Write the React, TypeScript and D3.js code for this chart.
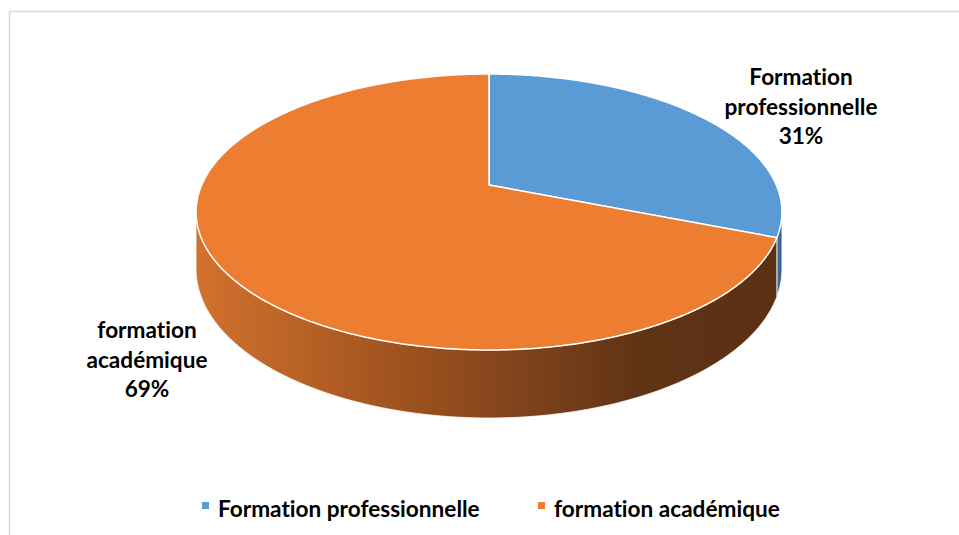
import React from 'react';
import * as d3 from 'd3';

// chart data
const categories = ["Formation professionnelle", "formation académique"];
const values = [31, 69];
const colors = ["#5B9BD5", "#ED7D31"];
const sideColors = ["#3A6691", "url(#sideGrad)"];
const labelLines = [["Formation", "professionnelle", "31%"], ["formation", "académique", "69%"]];

const W = 959;
const H = 535;
const FONT = "Lato, 'Open Sans', sans-serif";
const FS = 22.6;

// perspective projection of the pie disc
const cx = 489;
const cy = 185;   // projected centre of the disc
const a = 287.3;  // horizontal radius factor
const b = 132.7;  // vertical radius factor
const k = 0.1957; // perspective strength
const h0 = 54.7;  // depth factor

const project = (t: number, down = false): [number, number] => {
  const s = Math.sin(t), c = Math.cos(t);
  const den = 1 + k * c;
  const x = cx + (a * s) / den;
  const y = cy - (b * c) / den + (down ? h0 / den : 0);
  return [x, y];
};

const arcPts = (t0: number, t1: number, down = false) => {
  const n = Math.max(2, Math.ceil(Math.abs(t1 - t0) / 0.01));
  return d3.range(n + 1).map(i => project(t0 + ((t1 - t0) * i) / n, down));
};

const line = d3.line();

const App: React.FC = () => {
  const pie = d3.pie<number>().sort(null).startAngle(0).endAngle(2 * Math.PI);
  const arcs = pie(values);

  // visible wall: between the two silhouette angles
  const vis0 = Math.acos(-k);
  const vis1 = 2 * Math.PI - vis0;

  const sides = arcs.map((d, i) => {
    const t0 = Math.max(d.startAngle, vis0);
    const t1 = Math.min(d.endAngle, vis1);
    if (t1 <= t0) return null;
    const top = arcPts(t0, t1);
    const bot = arcPts(t0, t1, true).reverse();
    return <path key={i} d={line([...top, ...bot])! + "Z"} fill={sideColors[i]} stroke="#fff" strokeWidth={0.8} strokeLinejoin="round" />;
  });

  const tops = arcs.map((d, i) => {
    const pts: [number, number][] = [[cx, cy], ...arcPts(d.startAngle, d.endAngle)];
    return <path key={i} d={line(pts)! + "Z"} fill={colors[i]} stroke="#fff" strokeWidth={1.5} strokeLinejoin="round" />;
  });

  const labelCenters: [number, number][] = [[801, 85], [147, 338]];

  const legendX = [202, 538];
  const legendY = 517;

  const textStyle = { fontVariantLigatures: 'none' as const };

  return (
    <svg width={W} height={H} style={{ position: 'absolute', left: 0, top: 0, background: '#fff' }}>
      <defs>
        <linearGradient id="sideGrad" gradientUnits="userSpaceOnUse" x1={196} y1={0} x2={782} y2={0}>
          <stop offset="0" stopColor="#D2722E" />
          <stop offset="0.33" stopColor="#A2541F" />
          <stop offset="0.6" stopColor="#783F1A" />
          <stop offset="0.76" stopColor="#603315" />
          <stop offset="1" stopColor="#5A3013" />
        </linearGradient>
      </defs>
      <rect x={9.5} y={11.5} width={W + 10} height={H + 10} fill="#fff" stroke="#D9D9D9" strokeWidth={1.5} />
      {sides}
      {tops}
      {labelLines.map((lines, i) => (
        <text key={i} x={labelCenters[i][0]} y={labelCenters[i][1]} textAnchor="middle" style={textStyle}
          fontFamily={FONT} fontWeight={700} fontSize={FS} fill="#000">
          {lines.map((l, j) => (
            <tspan key={j} x={labelCenters[i][0]} dy={j === 0 ? 0 : 29.5}>{l}</tspan>
          ))}
        </text>
      ))}
      {categories.map((c, i) => (
        <g key={c}>
          <rect x={legendX[i]} y={502} width={7} height={7} fill={colors[i]} />
          <text x={legendX[i] + 16} y={legendY} fontFamily={FONT} fontWeight={700} fontSize={FS} fill="#000" style={textStyle}>{c}</text>
        </g>
      ))}
    </svg>
  );
};

export default App;
